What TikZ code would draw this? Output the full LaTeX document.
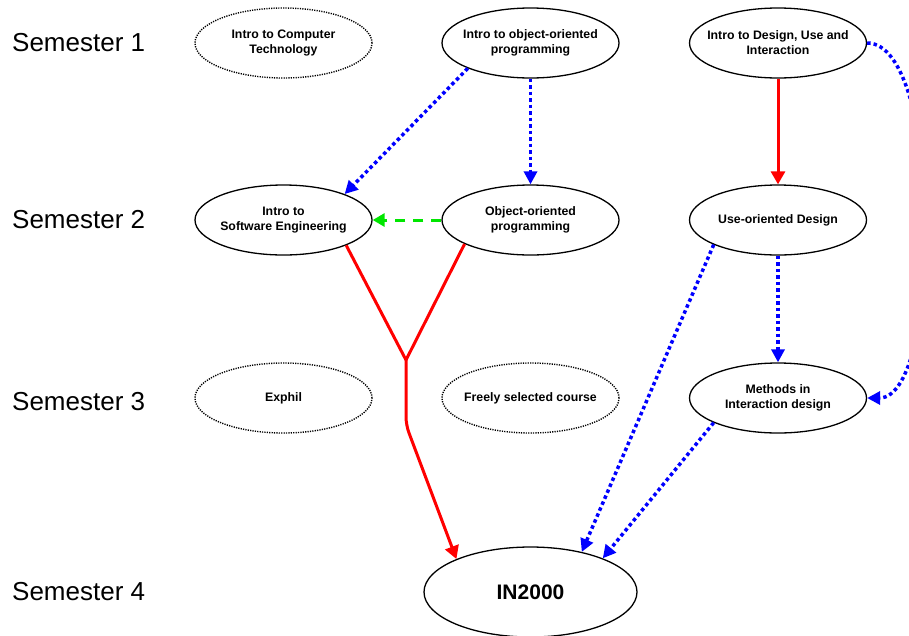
\documentclass[tikz,border=0pt]{standalone}
\usepackage{fontspec}
\setmainfont{Liberation Sans}
\usepackage{xcolor}
\usetikzlibrary{arrows.meta,shapes.geometric,calc}
\definecolor{reqred}{RGB}{255,0,0}
\definecolor{recblue}{RGB}{0,0,255}
\definecolor{altgreen}{RGB}{0,230,0}
\tikzset{
  course/.style   = {draw, ellipse, line width=1.3pt, align=center,
                     inner xsep=-16pt, inner ysep=0pt,
                     minimum width=177pt, minimum height=70pt,
                     font=\bfseries\fontsize{12.3}{15}\selectfont},
  optcourse/.style = {course, line width=1.4pt, dash pattern=on 1.2pt off 1.2pt},
  sem/.style      = {anchor=west, inner sep=0pt, font=\fontsize{26}{30}\selectfont},
  req/.style      = {-{Triangle[length=13pt,width=14pt]}, line width=3pt, draw=reqred, rounded corners=8pt},
  rec/.style      = {-{Triangle[length=13pt,width=13pt]}, line width=3.5pt, draw=recblue,
                     dash pattern=on 3.5pt off 3pt},
  alt/.style      = {-{Triangle[length=12pt,width=13pt]}, line width=3pt, draw=altgreen,
                     dash pattern=on 10pt off 8pt},
}
\begin{document}
\begin{tikzpicture}[x=1pt,y=-1pt]
  \useasboundingbox (0,0) rectangle (909,635);
  \clip (0,0) rectangle (909,635);
  % semesters
  \node[sem] (s1) at (12,43)  {Semester 1};
  \node[sem] (s2) at (12,220) {Semester 2};
  \node[sem] (s3) at (12,402) {Semester 3};
  \node[sem] (s4) at (12,592) {Semester 4};
  % courses
  \node[optcourse] (ict)  at (283.5,43)  {Intro to Computer\\Technology};
  \node[course]    (iop)  at (530.5,43)  {Intro to object-oriented\\programming};
  \node[course]    (idui) at (778,43)    {Intro to Design, Use and\\Interaction};
  \node[course]    (ise)  at (283.5,220) {Intro to\\Software Engineering};
  \node[course]    (oop)  at (530.5,220) {Object-oriented\\programming};
  \node[course]    (uod)  at (778,220)   {Use-oriented Design};
  \node[optcourse] (exp)  at (283.5,398) {Exphil};
  \node[optcourse] (free) at (530.5,398) {Freely selected course};
  \node[course]    (mid)  at (778,398)   {Methods in\\Interaction design};
  \node[course, minimum width=213pt, minimum height=90pt,
        font=\bfseries\fontsize{21}{25}\selectfont] (in2k) at (530.5,592) {IN2000};
  % connectors
  \coordinate (join) at (406,360);
  \coordinate (bend) at (406,425);
  \draw[rec] (iop.202) -- (ise.23);
  \draw[rec] (iop) -- (oop);
  \draw[alt] (oop) -- (ise);
  \draw[req] (idui) -- (uod);
  \draw[rec] (idui.east) to[out=0, in=0, looseness=0.55] (mid.east);
  \draw[rec] (uod) -- (mid);
  \draw[rec] (uod.201) -- (in2k.38);
  \draw[rec] (mid.201) -- (in2k.25);
  \draw[req, -] (ise.338) -- (join);
  \draw[req, -] (oop.200) -- (join);
  \draw[req] (join) -- (bend) -- (in2k.156);
\end{tikzpicture}
\end{document}
